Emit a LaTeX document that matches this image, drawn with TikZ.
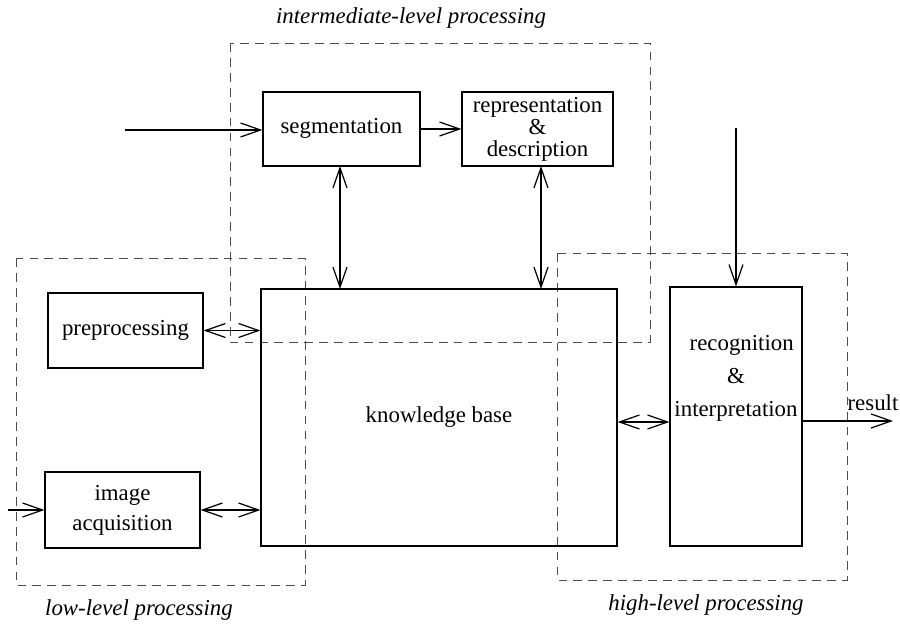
\documentclass[tikz,border=0pt]{standalone}
\usepackage{fontspec}
\setmainfont{Liberation Serif}
\usetikzlibrary{arrows.meta}

\begin{document}
\begin{tikzpicture}[
			x=0.02cm, y=-0.02cm,
			font=\fontsize{13}{14.5}\selectfont,
			box/.style={rectangle, draw=black, line width=0.7pt, align=center, inner sep=2pt},
			region/.style={draw=black!70, line width=0.45pt, dash pattern=on 5pt off 3.5pt},
			regionlabel/.style={font=\fontsize{13}{14.5}\selectfont\itshape},
			arrow/.style={line width=0.7pt, -{Straight Barb[length=4mm, width=2.8mm]}},
			twoway/.style={line width=0.7pt, {Straight Barb[length=4mm, width=2.8mm]}-{Straight Barb[length=4mm, width=2.8mm]}}
			]
			
			\useasboundingbox (0,0) rectangle (900,628);
			
			% processing levels
			\draw[region] (230,43) rectangle (650,342);
			\draw[region] (16,258) rectangle (305,585);
			\draw[region] (557,253) rectangle (847,580);
			
			\node[regionlabel] (midlabel) at (411,18) {intermediate-level processing};
			\node[regionlabel] (lowlabel) at (139,610) {low-level processing};
			\node[regionlabel] (highlabel) at (706,605) {high-level processing};
			
			% stages
			\node[box, minimum width=3.14cm, minimum height=1.48cm] (seg) at (341.5,129) {\raisebox{1.2mm}{segmentation}};
			\node[box, minimum width=3.02cm, minimum height=1.48cm] (repr) at (537.5,129) {representation\\[-2pt]\&\\[-2pt]description};
			\node[box, minimum width=3.1cm, minimum height=1.5cm] (pre) at (125.5,330.5) {preprocessing};
			\node[box, minimum width=3.1cm, minimum height=1.52cm] (acq) at (122.5,510) {image\\[2.5pt]acquisition};
			\node[box, minimum width=7.12cm, minimum height=5.14cm] (kb) at (439,417.5) {knowledge base};
			\node[box, minimum width=2.64cm, minimum height=5.18cm] (rec) at (736,416.5) {};
			\node[align=center] (rectext) at (736,378) {\hspace*{0.5em}recognition\\[4.3pt]\&\\[4.3pt]interpretation};
			
			\coordinate (segin) at (125,130);
			\coordinate (acqin) at (8,510);
			\coordinate (recin) at (736,128);
			\coordinate (out) at (893,421);
			
			\draw[arrow] (segin) -- (segin -| seg.west);
			\draw[arrow] (seg.east) -- (seg.east -| repr.west);
			\draw[twoway] (340,166) -- (340,289);
			\draw[twoway] (541,166) -- (541,289);
			\draw[twoway] (pre.east) -- (pre.east -| kb.west);
			\draw[arrow] (acqin) -- (acqin -| acq.west);
			\draw[twoway] (acq.east) -- (acq.east -| kb.west);
			\draw[arrow] (recin) -- (rec.north);
			\draw[twoway] (kb.east |- 0,422) -- (rec.west |- 0,422);
			\draw[arrow] (rec.east |- out) -- (out);
			\node[inner sep=0pt] (result) at (873,403) {result};
			
		\end{tikzpicture}
\end{document}
